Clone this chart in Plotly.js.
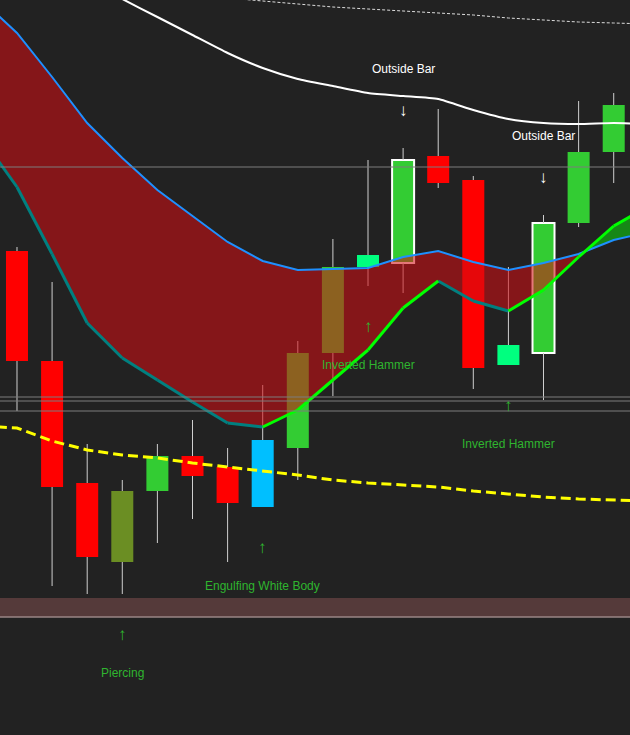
<!DOCTYPE html>
<html>
<head>
<meta charset="utf-8">
<script src="https://cdn.plot.ly/plotly-3.0.1.min.js"></script>
<style>html,body{margin:0;padding:0;background:#222222;}#chart{width:630px;height:735px;}</style>
</head>
<body>
<div id="chart"></div>
<script>
// ---- candle data (bar index, price) ----
const barIdx = [0,1,2,3,4,5,6,7,8,9,10,11,12,13,14,15,16,17];
const openP  = [148.4,137.4,125.2,117.3,124.4,127.9,126.8,122.8,128.7,138.2,146.8,147.2,157.9,155.5,137.0,138.2,151.2,158.3];
const highP  = [148.8,145.3,129.1,125.5,129.1,131.5,128.7,135.0,139.4,149.6,157.5,158.7,162.6,155.9,146.8,152.0,163.4,164.2];
const lowP   = [132.4,114.9,114.1,114.1,119.2,121.6,117.3,122.8,125.5,133.9,144.9,144.2,154.7,134.6,137.0,133.5,150.8,155.2];
const closeP = [137.4,124.8,117.8,124.4,127.9,125.9,123.2,129.5,138.2,146.8,148.0,157.5,155.2,136.7,139.0,151.2,158.3,163.0];
const bodyColors = ['#ff0000','#ff0000','#ff0000','#6b8e23','#33cc33','#ff0000','#ff0000','#00bfff','#33cc33','#33cc33','#00ff7f','#33cc33','#ff0000','#ff0000','#00ff7f','#33cc33','#33cc33','#33cc33'];
const outlineW = [0,0,0,0,0,0,0,0,0,0,0,2,0,0,0,2,0,0];

// ---- indicator lines ----
const lineX    = [-1,0,1,2,3,4,5,6,7,8,9,10,11,12,13,14,15,16,17,18];
const maBlue   = [173.5,170.2,165.8,161.2,157.7,154.5,151.9,149.3,147.4,146.5,146.6,146.7,147.8,148.4,147.3,146.5,147.2,148.1,149.5,150.3];
const maFast   = [159.7,154.8,148.1,141.2,137.7,135.5,133.3,131.2,130.8,132.5,135.5,138.5,142.7,145.4,143.4,142.4,144.5,147.8,150.9,152.9];
const maYellow = [130.9,130.7,129.4,128.5,128.0,127.7,127.2,126.8,126.4,126.0,125.5,125.2,125.0,124.8,124.4,124.1,123.8,123.6,123.5,123.4];
const maWhite  = [null,null,null,175.5,173.6,171.8,170.0,168.2,166.7,165.6,164.9,164.2,163.9,163.6,162.5,161.6,161.2,161.1,161.2,161.1];
const maDashed = [null,null,null,null,null,null,null,173.7,173.4,173.1,172.8,172.6,172.4,172.2,172.0,171.7,171.5,171.3,171.2,171.1];

// ---- levels ----
const levels = [156.8,133.8,133.4,132.4];
const bandLow = 111.8, bandHigh = 113.7;

// ---- patterns ----
const bullIdx = [3,7,10,14];
const bullNames = ['Piercing','Engulfing White Body','Inverted Hammer','Inverted Hammer'];
const outsideIdx = [11,15];
const outsideNames = ['Outside Bar','Outside Bar'];

// bodies
const bodyBase = barIdx.map(i => Math.min(openP[i], closeP[i]));
const bodyH = barIdx.map(i => Math.abs(closeP[i] - openP[i]));
const traces = [];
traces.push({type:'bar', x:barIdx, base:bodyBase, y:bodyH, width:0.627,
  marker:{color:bodyColors, line:{color:'#ffffff', width:outlineW}}, hoverinfo:'skip'});

// wicks (outside the body)
const wx = [], wy = [];
barIdx.forEach(i => {
  const top = Math.max(openP[i], closeP[i]), bot = Math.min(openP[i], closeP[i]);
  if (highP[i] > top) { wx.push(i,i,null); wy.push(highP[i], top, null); }
  if (lowP[i] < bot) { wx.push(i,i,null); wy.push(bot, lowP[i], null); }
});
traces.push({type:'scatter', mode:'lines', x:wx, y:wy, line:{color:'#cfcfcf', width:1}, hoverinfo:'skip'});

// fill regions between blue and fast line, with crossing points inserted
const fx = [], fb = [], ff = [];
for (let k = 0; k < lineX.length; k++) {
  fx.push(lineX[k]); fb.push(maBlue[k]); ff.push(maFast[k]);
  if (k < lineX.length - 1) {
    const d0 = maBlue[k] - maFast[k], d1 = maBlue[k+1] - maFast[k+1];
    if (d0 * d1 < 0) {
      const t = d0 / (d0 - d1);
      const xc = lineX[k] + t * (lineX[k+1] - lineX[k]);
      const yc = maBlue[k] + t * (maBlue[k+1] - maBlue[k]);
      fx.push(xc); fb.push(yc); ff.push(yc);
    }
  }
}
const fmin = fb.map((v, k) => Math.min(v, ff[k]));
traces.push({type:'scatter', mode:'lines', x:fx, y:fmin, line:{width:0}, hoverinfo:'skip'});
traces.push({type:'scatter', mode:'lines', x:fx, y:fb, line:{width:0}, fill:'tonexty', fillcolor:'rgba(211,13,18,0.56)', hoverinfo:'skip'});
traces.push({type:'scatter', mode:'lines', x:fx, y:fmin, line:{width:0}, hoverinfo:'skip'});
traces.push({type:'scatter', mode:'lines', x:fx, y:ff, line:{width:0}, fill:'tonexty', fillcolor:'rgba(12,214,12,0.56)', hoverinfo:'skip'});

// moving averages
traces.push({type:'scatter', mode:'lines', x:lineX, y:maYellow, line:{color:'#ffff00', width:3, dash:'10px,5px'}, hoverinfo:'skip'});
traces.push({type:'scatter', mode:'lines', x:lineX, y:maWhite, line:{color:'#ffffff', width:2, shape:'spline', smoothing:0.5}, hoverinfo:'skip'});
traces.push({type:'scatter', mode:'lines', x:lineX, y:maDashed, line:{color:'#dddddd', width:1, dash:'3px,2px'}, hoverinfo:'skip'});
traces.push({type:'scatter', mode:'lines', x:lineX, y:maBlue, line:{color:'#1e90ff', width:2}, hoverinfo:'skip'});

// fast line: teal when falling, lime when rising
const upX = [], upY = [], dnX = [], dnY = [];
for (let k = 0; k < lineX.length - 1; k++) {
  if (maFast[k+1] >= maFast[k]) { upX.push(lineX[k], lineX[k+1], null); upY.push(maFast[k], maFast[k+1], null); }
  else { dnX.push(lineX[k], lineX[k+1], null); dnY.push(maFast[k], maFast[k+1], null); }
}
traces.push({type:'scatter', mode:'lines', x:dnX, y:dnY, line:{color:'#008080', width:3}, hoverinfo:'skip'});
traces.push({type:'scatter', mode:'lines', x:upX, y:upY, line:{color:'#00ff00', width:3}, hoverinfo:'skip'});

// shapes
const shapes = levels.map(v => ({type:'line', xref:'paper', x0:0, x1:1, yref:'y', y0:v, y1:v, line:{color:'#7c7c7c', width:1}}));
shapes.push({type:'rect', xref:'paper', x0:0, x1:1, yref:'y', y0:bandLow, y1:bandHigh, fillcolor:'#553a3a', line:{width:0}, layer:'below'});
shapes.push({type:'line', xref:'paper', x0:0, x1:1, yref:'y', y0:bandLow, y1:bandLow, line:{color:'#9a8686', width:1.5}});

// annotations
const textFont = {family:'Liberation Sans, Arial, sans-serif', size:12};
const arrowFont = {family:'Liberation Sans, Arial, sans-serif', size:17};
const annotations = [];
bullIdx.forEach((i, n) => {
  annotations.push({x:i, y:lowP[i], xref:'x', yref:'y', text:'↑', showarrow:false, yshift:-40, font:Object.assign({color:'#2fb52f'}, arrowFont)});
  annotations.push({x:i, y:lowP[i], xref:'x', yref:'y', text:bullNames[n], showarrow:false, yshift:-79, font:Object.assign({color:'#2fb52f'}, textFont)});
});
outsideIdx.forEach((i, n) => {
  annotations.push({x:i, y:highP[i], xref:'x', yref:'y', text:'↓', showarrow:false, yshift:38, font:Object.assign({color:'#ffffff'}, arrowFont)});
  annotations.push({x:i, y:highP[i], xref:'x', yref:'y', text:outsideNames[n], showarrow:false, yshift:79, font:Object.assign({color:'#ffffff'}, textFont)});
});

const layout = {
  width:630, height:735,
  margin:{l:0, r:0, t:0, b:0, pad:0},
  paper_bgcolor:'#222222', plot_bgcolor:'#222222',
  showlegend:false, hovermode:false, barmode:'overlay',
  xaxis:{visible:false, range:[-0.484, 17.464], fixedrange:true},
  yaxis:{visible:false, range:[100, 173.5], fixedrange:true},
  shapes:shapes, annotations:annotations
};
Plotly.newPlot('chart', traces, layout, {staticPlot:true, displayModeBar:false});
</script>
</body>
</html>
